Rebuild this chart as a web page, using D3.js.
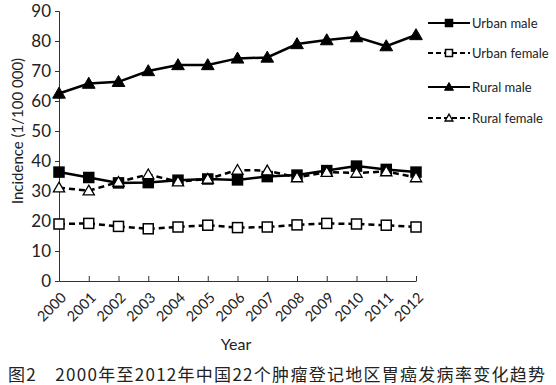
<!DOCTYPE html>
<html>
<head>
<meta charset="utf-8">
<script src="https://cdn.jsdelivr.net/npm/d3@7"></script>
<style>
  body { margin: 0; background: #fff; }
  text { font-family: Lato, "Noto Sans", sans-serif; fill: #222; }
</style>
</head>
<body>
<svg id="chart" width="556" height="385"></svg>
<script>
const years = [2000, 2001, 2002, 2003, 2004, 2005, 2006, 2007, 2008, 2009, 2010, 2011, 2012];
const urbanMale   = [36.3, 34.5, 32.7, 32.8, 33.6, 34.0, 33.7, 34.8, 35.3, 36.8, 38.3, 37.2, 36.3];
const urbanFemale = [19.0, 19.2, 18.2, 17.4, 18.0, 18.6, 17.8, 18.0, 18.7, 19.2, 19.0, 18.6, 18.0];
const ruralMale   = [62.5, 65.8, 66.4, 70.0, 72.0, 72.0, 74.2, 74.5, 79.0, 80.3, 81.3, 78.3, 82.0];
const ruralFemale = [31.1, 30.1, 33.0, 35.5, 33.1, 34.0, 37.0, 36.8, 34.5, 36.3, 36.0, 36.5, 34.5];
const yTicks = [0, 10, 20, 30, 40, 50, 60, 70, 80, 90];
const seriesNames = ["Urban male", "Urban female", "Rural male", "Rural female"];

const series = [
  { name: seriesNames[0], values: urbanMale, dash: null, shape: "square", filled: true },
  { name: seriesNames[1], values: urbanFemale, dash: "6,4", shape: "square", filled: false },
  { name: seriesNames[2], values: ruralMale, dash: null, shape: "triangle", filled: true },
  { name: seriesNames[3], values: ruralFemale, dash: "6,4", shape: "triangle", filled: false }
];

const svg = d3.select("#chart");
const plotLeft = 59, plotRight = 416, plotTop = 11, plotBottom = 281;

const x = d3.scalePoint().domain(years).range([plotLeft, plotRight]);
const y = d3.scaleLinear().domain([0, 90]).range([plotBottom, plotTop]);

// axes
svg.append("g")
  .attr("transform", `translate(${plotLeft},0)`)
  .call(d3.axisLeft(y).tickValues(yTicks).tickSize(4).tickPadding(4))
  .call(g => g.selectAll("text").style("font-size", "17px").attr("fill", "#222"));

// x ticks point up into the plot, labels rotated
const xAxis = svg.append("g")
  .attr("transform", `translate(0,${plotBottom})`)
  .call(d3.axisBottom(x).tickSize(-5).tickSizeOuter(0));
xAxis.selectAll(".tick text")
  .style("font-size", "14.5px")
  .attr("fill", "#222")
  .attr("text-anchor", "end")
  .attr("x", 0).attr("y", 0)
  .attr("dy", "0.35em")
  .attr("transform", "translate(4,14) rotate(-45)");
svg.selectAll(".domain, .tick line").attr("stroke", "#333");

// axis titles
svg.append("text")
  .attr("x", 236).attr("y", 350)
  .attr("text-anchor", "middle")
  .style("font-size", "16px")
  .text("Year");

svg.append("text")
  .attr("transform", `translate(23,131) rotate(-90)`)
  .attr("text-anchor", "middle")
  .style("font-size", "15px")
  .text("Incidence (1/100 000)");

// lines
const line = d3.line().x((d, i) => x(years[i])).y(d => y(d));

const drawMarker = (g, s, cx, cy, k = 1) => {
  if (s.shape === "square") {
    const h = 5 * k;
    g.append("rect")
      .attr("x", cx - h).attr("y", cy - h)
      .attr("width", 2 * h).attr("height", 2 * h)
      .attr("fill", s.filled ? "#000" : "#fff")
      .attr("stroke", "#000").attr("stroke-width", 1.5);
  } else {
    g.append("path")
      .attr("d", d3.symbol().type(d3.symbolTriangle).size((s.filled ? 70 : 55) * k * k)())
      .attr("transform", `translate(${cx},${cy + k})`)
      .attr("fill", s.filled ? "#000" : "#fff")
      .attr("stroke", "#000").attr("stroke-width", s.filled ? 1 : 1.3);
  }
};

series.forEach(s => {
  const g = svg.append("g");
  g.append("path")
    .datum(s.values)
    .attr("d", line)
    .attr("fill", "none")
    .attr("stroke", "#000")
    .attr("stroke-width", 2.5)
    .attr("stroke-dasharray", s.dash);
  s.values.forEach((v, i) => drawMarker(g, s, x(years[i]), y(v)));
});

// legend
const legendY = [23, 53, 87, 118];
series.forEach((s, i) => {
  const g = svg.append("g");
  const ly = legendY[i];
  g.append("line")
    .attr("x1", 428).attr("x2", 470)
    .attr("y1", ly).attr("y2", ly)
    .attr("stroke", "#000").attr("stroke-width", 2)
    .attr("stroke-dasharray", s.dash ? "5,3" : null);
  drawMarker(g, { shape: s.shape, filled: s.filled }, 449, ly, 0.7);
  g.append("text")
    .attr("x", 472).attr("y", ly + 4.5)
    .style("font-size", "13px")
    .text(s.name);
});

// caption
svg.append("text")
  .attr("x", 8).attr("y", 381)
  .style("font-family", "'Noto Sans CJK SC', sans-serif")
  .style("font-size", "17px")
  .attr("textLength", 537)
  .text("图2　2000年至2012年中国22个肿瘤登记地区胃癌发病率变化趋势");
</script>
</body>
</html>
